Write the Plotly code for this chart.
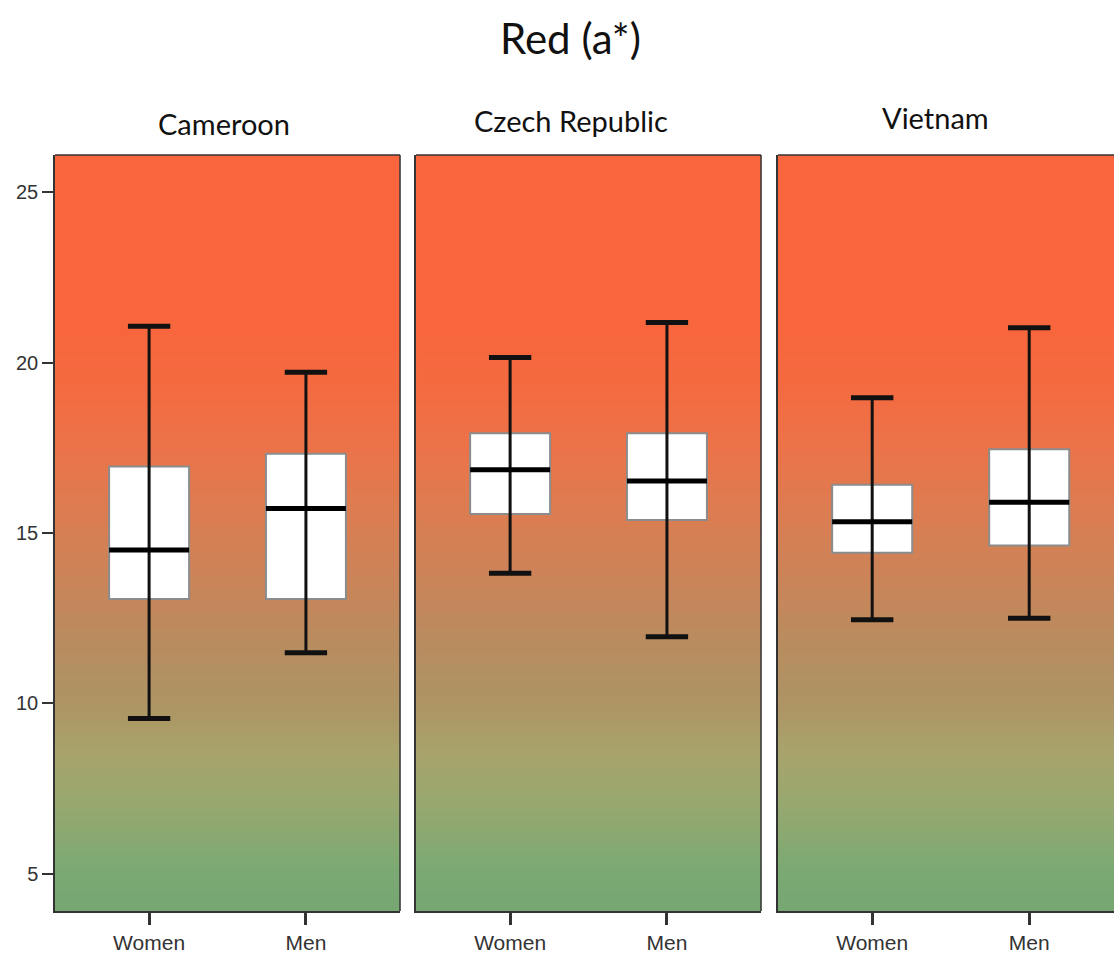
import numpy as np
import plotly.graph_objects as go

countries = ["Cameroon", "Czech Republic", "Vietnam"]
groups = ["Women", "Men"]
# per country: [Women, Men]
lower = {"Cameroon": [9.55, 11.48], "Czech Republic": [13.82, 11.95], "Vietnam": [12.45, 12.5]}
q1 = {"Cameroon": [13.06, 13.06], "Czech Republic": [15.56, 15.38], "Vietnam": [14.42, 14.63]}
median = {"Cameroon": [14.5, 15.72], "Czech Republic": [16.86, 16.53], "Vietnam": [15.33, 15.9]}
q3 = {"Cameroon": [16.95, 17.33], "Czech Republic": [17.93, 17.93], "Vietnam": [16.42, 17.46]}
upper = {"Cameroon": [21.07, 19.72], "Czech Republic": [20.15, 21.18], "Vietnam": [18.97, 21.03]}

y_ticks = [5, 10, 15, 20, 25]
y_range = [3.9, 26.1]

# background gradient colour stops (value on a* axis -> colour)
grad_vals = [3.9, 5.0, 7.2, 8.6, 10.0, 11.6, 13.5, 15.5, 17.5, 19.5, 21.5, 26.1]
grad_cols = ["#76a672", "#7aa973", "#99a86f", "#a8a36b", "#ae9463", "#b78d60",
             "#c98559", "#db7d52", "#ec7349", "#f5693f", "#f9653d", "#f9653d"]

fig = go.Figure()

domains = [[0.0, 0.3258], [0.3409, 0.6667], [0.6827, 1.0]]
x_ranges = [[-0.6, 1.6], [-0.6, 1.6], [-0.6, 1.54]]

gv = np.linspace(y_range[0], y_range[1], 300)
cs = [[(v - y_range[0]) / (y_range[1] - y_range[0]), c] for v, c in zip(grad_vals, grad_cols)]

box_w = 0.51
cap_half = 0.135

for i, c in enumerate(countries):
    xa = "x" if i == 0 else f"x{i+1}"
    ya = "y" if i == 0 else f"y{i+1}"
    # gradient background
    fig.add_trace(go.Heatmap(
        x=[x_ranges[i][0], x_ranges[i][1]], y=gv,
        z=[[v, v] for v in gv], colorscale=cs, zmin=y_range[0], zmax=y_range[1],
        showscale=False, hoverinfo="skip", xaxis=xa, yaxis=ya, zsmooth="best"))
    for j, g in enumerate(groups):
        fig.add_trace(go.Box(
            x=[j], q1=[q1[c][j]], median=[median[c][j]], q3=[q3[c][j]],
            lowerfence=[q1[c][j]], upperfence=[q3[c][j]],
            width=box_w, fillcolor="white", line=dict(color="#8c8c8c", width=2),
            whiskerwidth=0, showlegend=False, hoverinfo="skip", xaxis=xa, yaxis=ya))
        # whisker
        fig.add_trace(go.Scatter(
            x=[j, j], y=[lower[c][j], upper[c][j]], mode="lines",
            line=dict(color="#111111", width=3), showlegend=False, hoverinfo="skip",
            xaxis=xa, yaxis=ya))
        # caps
        for v in (lower[c][j], upper[c][j]):
            fig.add_trace(go.Scatter(
                x=[j - cap_half, j + cap_half], y=[v, v], mode="lines",
                line=dict(color="#111111", width=5), showlegend=False, hoverinfo="skip",
                xaxis=xa, yaxis=ya))
        # median
        fig.add_trace(go.Scatter(
            x=[j - box_w / 2, j + box_w / 2], y=[median[c][j], median[c][j]], mode="lines",
            line=dict(color="#000000", width=5), showlegend=False, hoverinfo="skip",
            xaxis=xa, yaxis=ya))

x_font = dict(family="Liberation Sans, Arial, sans-serif", size=21, color="#333333")
y_font = dict(family="Liberation Sans, Arial, sans-serif", size=20, color="#333333")
layout = dict(
    width=1114, height=953,
    margin=dict(l=55, r=0, t=155, b=42),
    paper_bgcolor="white", plot_bgcolor="white",
    showlegend=False,
)
for i in range(3):
    sfx = "" if i == 0 else str(i + 1)
    layout[f"xaxis{sfx}"] = dict(
        domain=domains[i], range=x_ranges[i], tickvals=[0, 1], ticktext=groups,
        ticks="outside", ticklen=12, tickwidth=2.5, tickcolor="#333333",
        showline=True, linecolor="#333333", linewidth=1.5, showgrid=False, zeroline=False,
        tickfont=x_font, anchor="y" + sfx, fixedrange=True)
    layout[f"yaxis{sfx}"] = dict(
        range=y_range, tickvals=y_ticks if i == 0 else [], showticklabels=(i == 0),
        ticks="outside" if i == 0 else "", ticklen=11, tickwidth=2, tickcolor="#333333",
        showline=True, linecolor="#333333", linewidth=1.5, showgrid=False, zeroline=False,
        tickfont=y_font, anchor="x" + sfx, fixedrange=True)
fig.update_layout(**layout)

# top and right borders of panels
shapes = []
for i in range(3):
    sfx = "" if i == 0 else str(i + 1)
    shapes.append(dict(type="line", xref=f"x{sfx} domain", yref=f"y{sfx} domain",
                       x0=0, x1=1, y0=1, y1=1, line=dict(color="#333333", width=1.5)))
    if i < 2:
        shapes.append(dict(type="line", xref=f"x{sfx} domain", yref=f"y{sfx} domain",
                           x0=1, x1=1, y0=0, y1=1, line=dict(color="#333333", width=1.5)))
fig.update_layout(shapes=shapes)

title_font = "Lato, Open Sans, sans-serif"
annotations = [dict(text="Red (a*)", x=(570 - 55) / 1059, xref="paper",
                    y=1 + (155 - 38) / 756, yref="paper", xanchor="center", yanchor="middle",
                    showarrow=False, font=dict(family=title_font, size=42, color="#111111"))]
sub_x = [224, 571, 935]
sub_y = [123, 120, 117]
for c, sx, sy in zip(countries, sub_x, sub_y):
    annotations.append(dict(text=c, x=(sx - 55) / 1059, xref="paper",
                            y=1 + (155 - sy) / 756, yref="paper", showarrow=False,
                            xanchor="center", yanchor="middle",
                            font=dict(family=title_font, size=29, color="#111111")))
fig.update_layout(annotations=annotations)

fig.write_html("out.html")
